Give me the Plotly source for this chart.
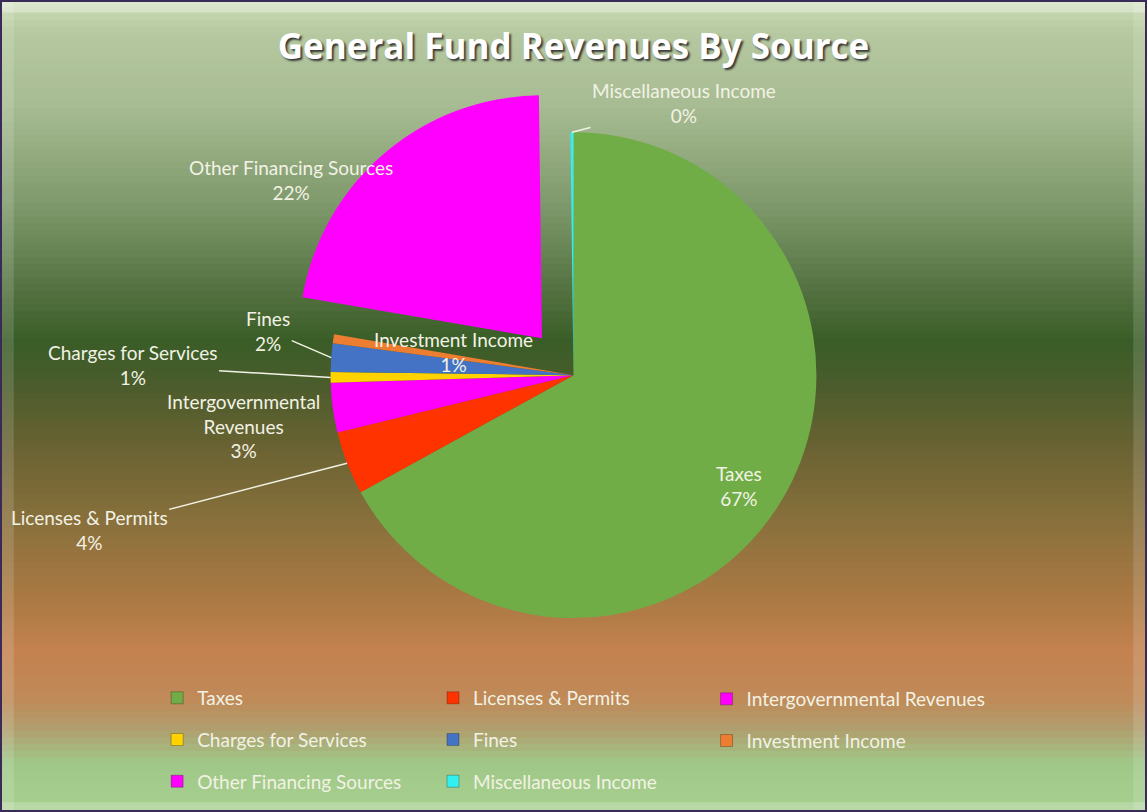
import numpy as np
import plotly.graph_objects as go

# data (percent of general fund revenues)
categories = ["Taxes", "Licenses & Permits", "Intergovernmental Revenues",
              "Charges for Services", "Fines", "Investment Income",
              "Other Financing Sources", "Miscellaneous Income"]
shares = [67.0, 4.2, 3.3, 0.7, 1.9, 0.6, 22.1, 0.2]
slice_labels = ["Taxes", "Licenses & Permits", "Intergovernmental<br>Revenues",
                "Charges for Services", "Fines", "Investment Income",
                "Other Financing Sources", "Miscellaneous Income"]
colors = ["#70ad47", "#ff3300", "#ff00ff", "#ffd200",
          "#4472c4", "#ed7d31", "#ff00ff", "#33f0f0"]
pulls = [0, 0, 0, 0, 0, 0, 0.2, 0]

# label placement (pixel offset of label centre from the slice edge) and leader lines
label_offsets = [(-44, -13), (-258, 67), (-89, 18), (-198, -12),
                 (-63, -27), (120, 13), (-93, 27), (112, -29)]
leader = [False, True, False, True, True, False, False, True]

W, H = 1147, 812
TXT = "#f2f2e4"
FONT = "Lato"
DOM_X = [0.2458, 0.7542]
DOM_Y = [0.179, 0.897]

fig = go.Figure()

fig.add_trace(go.Pie(
    labels=categories,
    values=shares,
    sort=False,
    direction="clockwise",
    rotation=0,
    pull=pulls,
    marker=dict(colors=colors, line=dict(width=0)),
    textinfo="none",
    domain=dict(x=DOM_X, y=DOM_Y),
    showlegend=False,
    hoverinfo="label+percent",
))

# data labels: anchor on the slice edge at the mid-angle of each slice
total = sum(shares)
cx = (DOM_X[0] + DOM_X[1]) / 2 * W
cy = (1 - (DOM_Y[0] + DOM_Y[1]) / 2) * H
r = min((DOM_X[1] - DOM_X[0]) * W, (DOM_Y[1] - DOM_Y[0]) * H) / (2 + 2 * max(pulls))
annotations = []
cum = 0.0
for i, v in enumerate(shares):
    mid = (cum + v / 2) / total * 2 * np.pi
    cum += v
    rr = r * (1 + pulls[i])
    px = cx + rr * np.sin(mid)
    py = cy - rr * np.cos(mid)
    pct = round(v / total * 100)
    annotations.append(dict(
        x=px / W, y=1 - py / H, xref="paper", yref="paper",
        text=f"{slice_labels[i]}<br>{pct}%",
        showarrow=True, arrowhead=0, arrowwidth=1.5, standoff=0,
        arrowcolor=TXT if leader[i] else "rgba(0,0,0,0)",
        ax=label_offsets[i][0], ay=label_offsets[i][1],
        font=dict(family=FONT, size=19, color=TXT),
    ))

# legend: three columns, each its own vertical legend
columns = [[categories[0], categories[3], categories[6]],
           [categories[1], categories[4], categories[7]],
           [categories[2], categories[5]]]
legend_ids = ["legend", "legend2", "legend3"]
for col, lid in zip(columns, legend_ids):
    for name in col:
        i = categories.index(name)
        fig.add_trace(go.Scatter(
            x=[None], y=[None], mode="markers", name=name,
            marker=dict(symbol="square", size=12, color=colors[i],
                        line=dict(width=1, color="rgba(0,0,0,0.25)")),
            legend=lid, legendgroup=name, showlegend=True, hoverinfo="skip",
        ))

# background gradient (top to bottom)
stops_y = [0.0, 0.04, 0.13, 0.25, 0.37, 0.42, 0.47, 0.55, 0.64, 0.74, 0.80, 0.86, 0.90, 0.94, 1.0]
stops_c = [(205, 222, 185), (182, 201, 160), (168, 188, 147), (127, 154, 108), (79, 110, 60),
           (58, 94, 40), (74, 92, 44), (106, 99, 51), (136, 112, 60), (172, 122, 68),
           (196, 130, 80), (192, 138, 88), (176, 160, 112), (160, 200, 136), (168, 208, 144)]
n = 120
shapes = []
for k in range(n):
    t = (k + 0.5) / n
    rgb = [int(np.interp(t, stops_y, [c[j] for c in stops_c])) for j in range(3)]
    shapes.append(dict(type="rect", xref="paper", yref="paper", layer="below",
                       x0=0, x1=1, y0=1 - (k + 1) / n - 0.001, y1=1 - k / n,
                       fillcolor=f"rgb({rgb[0]},{rgb[1]},{rgb[2]})", line=dict(width=0)))
# bevel edges and frame
shapes += [
    dict(type="rect", xref="paper", yref="paper", layer="below", x0=0, x1=0.012, y0=0, y1=1,
         fillcolor="rgba(255,255,255,0.14)", line=dict(width=0)),
    dict(type="rect", xref="paper", yref="paper", layer="below", x0=0.988, x1=1, y0=0, y1=1,
         fillcolor="rgba(255,255,255,0.14)", line=dict(width=0)),
    dict(type="rect", xref="paper", yref="paper", layer="below", x0=0, x1=1, y0=0.985, y1=1,
         fillcolor="rgba(255,255,255,0.3)", line=dict(width=0)),
    dict(type="rect", xref="paper", yref="paper", layer="below", x0=0, x1=1, y0=0, y1=0.012,
         fillcolor="rgba(255,255,255,0.2)", line=dict(width=0)),
    dict(type="rect", xref="paper", yref="paper", layer="above", x0=0, x1=1, y0=0, y1=1,
         fillcolor="rgba(0,0,0,0)", line=dict(width=4, color="#3a2a58")),
]

legend_style = dict(orientation="v", xanchor="left", yanchor="middle", tracegroupgap=14,
                    bgcolor="rgba(0,0,0,0)", font=dict(family=FONT, size=19, color=TXT),
                    itemclick=False, itemdoubleclick=False)

fig.update_layout(
    width=W,
    height=H,
    margin=dict(l=0, r=0, t=0, b=0, autoexpand=False),
    paper_bgcolor="#8aa070",
    plot_bgcolor="rgba(0,0,0,0)",
    title=dict(text="General Fund Revenues By Source", x=0.5, xanchor="center",
               y=0.943, yanchor="middle",
               font=dict(family="Open Sans", size=35, weight="bold", color="#ffffff",
                         shadow="2px 2px 2px #3a3a3a")),
    xaxis=dict(visible=False),
    yaxis=dict(visible=False),
    shapes=shapes,
    annotations=annotations,
    legend=dict(legend_style, x=0.137, y=0.0887),
    legend2=dict(legend_style, x=0.3775, y=0.0887),
    legend3=dict(legend_style, x=0.616, y=0.1133),
)

fig.write_html("out.html", config={"displayModeBar": False},
               post_script="document.body.style.margin='0px';")
